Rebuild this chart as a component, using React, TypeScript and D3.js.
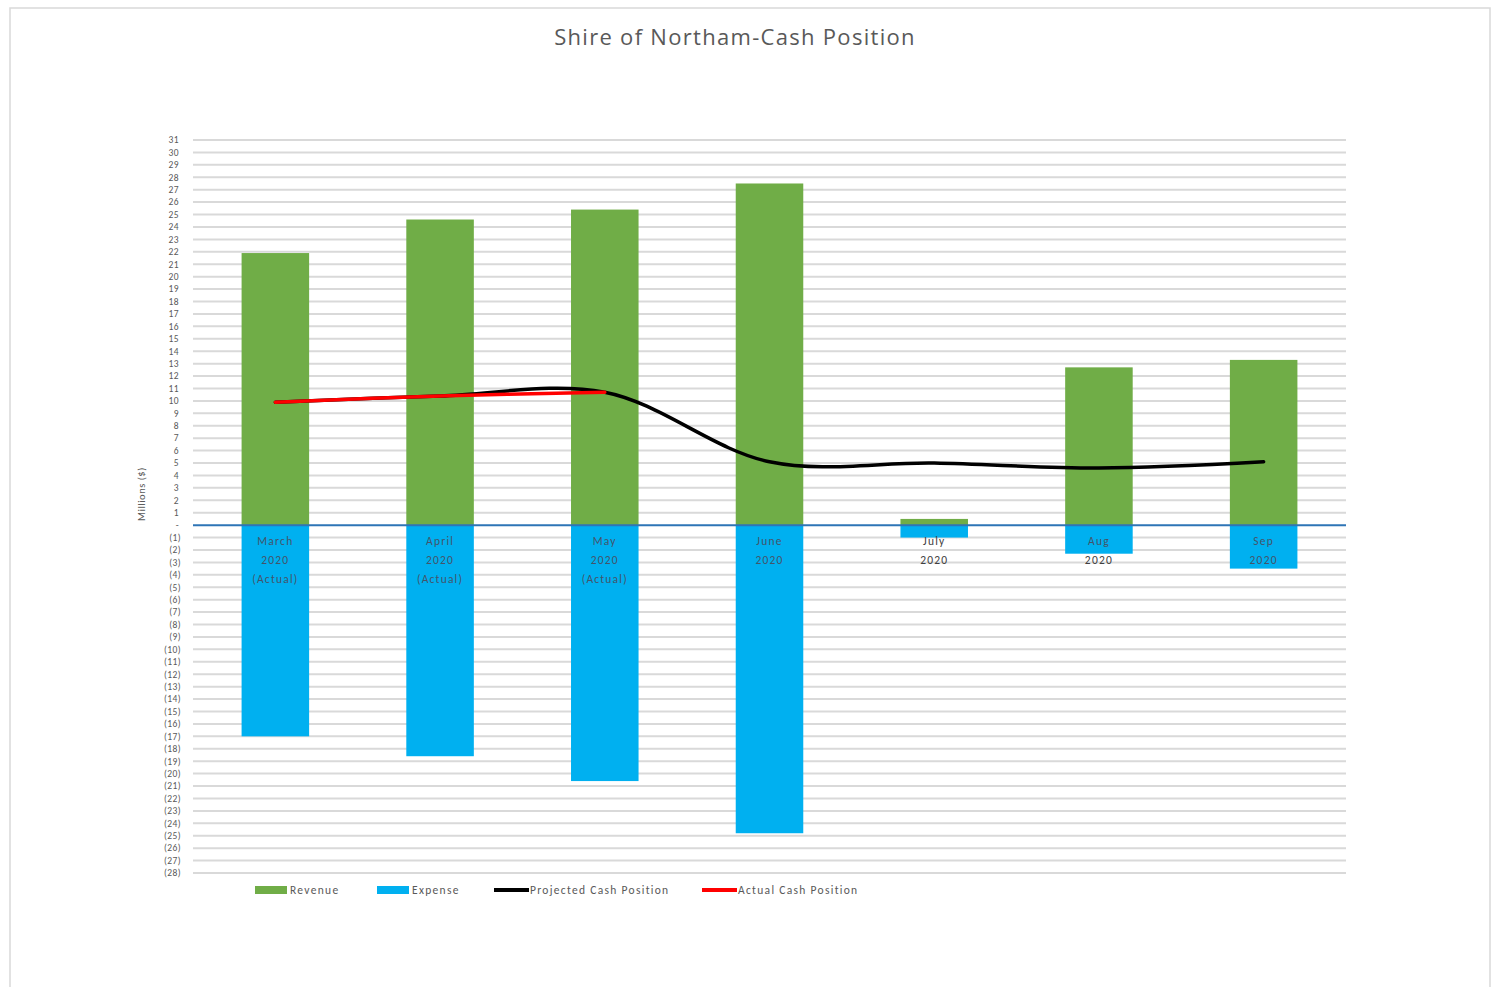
import React from "react";
import * as d3 from "d3";

const categories = ["March", "April", "May", "June", "July", "Aug", "Sep"];
const catLabels = [
  ["March", "2020", "(Actual)"],
  ["April", "2020", "(Actual)"],
  ["May", "2020", "(Actual)"],
  ["June", "2020"],
  ["July", "2020"],
  ["Aug", "2020"],
  ["Sep", "2020"],
];
const revenue = [21.9, 24.6, 25.4, 27.5, 0.5, 12.7, 13.3];
const expense = [-17.0, -18.6, -20.6, -24.8, -1.0, -2.3, -3.5];
const projected = [9.9, 10.4, 10.7, 5.1, 5.0, 4.6, 5.1];
const actual = [9.9, 10.4, 10.7];
const yTicks = d3.range(-28, 32);
const legendItems = [
  { label: "Revenue", type: "rect", color: "#70AD47" },
  { label: "Expense", type: "rect", color: "#00B0F0" },
  { label: "Projected Cash Position", type: "line", color: "#000000" },
  { label: "Actual Cash Position", type: "line", color: "#FF0000" },
];

const W = 1492;
const H = 987;
const plotLeft = 193;
const plotRight = 1346;
const yTop = 140;
const yBottom = 873;

function fmtTick(v: number) {
  if (v === 0) return "-";
  if (v < 0) return `(${-v})`;
  return `${v}`;
}

export default function App() {
  const x = d3
    .scaleBand<string>()
    .domain(categories)
    .range([plotLeft, plotRight])
    .paddingInner(0.59)
    .paddingOuter(0.295);
  const y = d3.scaleLinear().domain([-28, 31]).range([yBottom, yTop]);
  const cx = (i: number) => (x(categories[i]) as number) + x.bandwidth() / 2;

  const lineGen = d3
    .line<number>()
    .x((_, i) => cx(i))
    .y((d) => y(d))
    .curve(d3.curveCatmullRom.alpha(0.5));

  const font = "Carlito, Lato, 'Liberation Sans', 'DejaVu Sans', sans-serif";
  const legendX = [255, 377, 494, 702];

  return (
    <svg
      width={W}
      height={H}
      style={{ position: "absolute", left: 0, top: 0, background: "#fff" }}
      fontFamily={font}
    >
      <rect x={10} y={8} width={1480} height={990} fill="#fff" stroke="#d9d9d9" strokeWidth={1.5} />
      <text
        x={735}
        y={45}
        textAnchor="middle"
        fontSize={22}
        letterSpacing={1.3}
        fill="#595959"
        fontFamily="'Open Sans', sans-serif"
      >
        Shire of Northam-Cash Position
      </text>

      {/* gridlines */}
      {yTicks.map((t) =>
        t === 0 ? null : (
          <line
            key={t}
            x1={plotLeft}
            x2={plotRight}
            y1={y(t)}
            y2={y(t)}
            stroke="#d9d9d9"
            strokeWidth={2}
          />
        )
      )}
      {/* tick labels */}
      {yTicks.map((t) => (
        <text
          key={"l" + t}
          x={t < 0 ? 181 : 179}
          y={y(t)}
          dy="0.35em"
          textAnchor="end"
          fontSize={9.5}
          letterSpacing={0.4}
          fill="#595959"
        >
          {fmtTick(t)}
        </text>
      ))}
      <text
        transform={`translate(145,${y(2.5)}) rotate(-90)`}
        textAnchor="middle"
        fontSize={10.5}
        letterSpacing={0.5}
        fill="#595959"
      >
        Millions ($)
      </text>

      {/* bars */}
      {revenue.map((v, i) => (
        <rect
          key={"r" + i}
          x={x(categories[i])}
          y={y(Math.max(0, v))}
          width={x.bandwidth()}
          height={Math.abs(y(v) - y(0))}
          fill="#70AD47"
        />
      ))}
      {expense.map((v, i) => (
        <rect
          key={"e" + i}
          x={x(categories[i])}
          y={y(0)}
          width={x.bandwidth()}
          height={Math.abs(y(v) - y(0))}
          fill="#00B0F0"
        />
      ))}

      {/* zero line */}
      <line x1={plotLeft} x2={plotRight} y1={y(0)} y2={y(0)} stroke="#2E75B6" strokeWidth={2} />

      {/* category labels */}
      {catLabels.map((lines, i) =>
        lines.map((s, j) => (
          <text
            key={"c" + i + j}
            x={cx(i)}
            y={545 + j * 19}
            textAnchor="middle"
            fontSize={11.5}
            letterSpacing={1.2}
            fill={i === 4 || (i === 5 && j === 1) ? "#404040" : "#44546A"}
          >
            {s}
          </text>
        ))
      )}

      {/* lines */}
      <path d={lineGen(projected) || ""} fill="none" stroke="#000" strokeWidth={3.5} strokeLinecap="round" />
      <path d={lineGen(actual) || ""} fill="none" stroke="#FF0000" strokeWidth={3.5} strokeLinecap="round" />

      {/* legend */}
      {legendItems.map((it, i) => (
        <g key={"lg" + i} transform={`translate(${legendX[i]},890)`}>
          {it.type === "rect" ? (
            <rect x={0} y={-4} width={32} height={8} fill={it.color} />
          ) : (
            <line x1={0} x2={35} y1={0} y2={0} stroke={it.color} strokeWidth={4} />
          )}
          <text
            x={it.type === "rect" ? 35 : 36}
            y={0}
            dy="0.35em"
            fontSize={11.5}
            letterSpacing={1.3}
            fill="#595959"
          >
            {it.label}
          </text>
        </g>
      ))}
    </svg>
  );
}
